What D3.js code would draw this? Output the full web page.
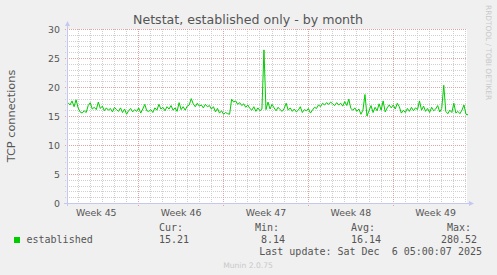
<!DOCTYPE html>
<html>
<head>
<meta charset="utf-8">
<script src="https://cdn.jsdelivr.net/npm/d3@7"></script>
<title>Netstat, established only - by month</title>
<style>
    body {
        margin: 0;
        background: #f0f0f0;
    }
    svg {
        display: block;
        font-family: "DejaVu Sans", sans-serif;
    }
    .mono {
        font-family: "DejaVu Sans Mono", monospace;
        font-size: 10px;
        fill: #555;
    }
</style>
</head>
<body>
<svg id="chart" width="497" height="275"></svg>
<script>

// --- data ---
var endTime = new Date("2025-12-06T05:00:07Z");
var spanHours = 33 * 24;   // munin "month" = 33 days
var stepHours = 4;

var established = [
    17.3, 16.9, 17.6, 16.6, 17.8, 16.4, 15.7, 15.5, 15.9, 15.6,
    16.8, 17.3, 16.2, 16.5, 16.1, 17.4, 16.3, 16.7, 15.9, 16.4,
    16.0, 16.3, 15.7, 16.5, 16.1, 15.8, 16.4, 15.6, 16.2, 15.3,
    15.9, 16.3, 15.7, 16.1, 15.8, 16.4, 15.5, 16.2, 17.0, 15.9,
    15.8, 16.1, 15.6, 16.4, 16.0, 17.0, 16.2, 16.5, 15.9, 16.6,
    16.2, 16.8, 16.0, 16.4, 15.8, 17.3, 16.1, 16.6, 16.0, 16.7,
    16.9, 18.0, 17.1, 16.6, 17.2, 16.7, 16.9, 16.4, 17.0, 16.6,
    16.8, 16.2, 16.6, 15.7, 16.3, 15.5, 15.9, 15.3, 15.6, 15.4,
    15.3, 17.9, 17.4, 17.6, 17.0, 17.3, 16.8, 17.1, 16.5, 16.9,
    16.3, 16.0, 16.6, 15.8, 16.4, 15.9, 16.2, 26.4, 16.1, 17.4,
    16.2, 17.0, 16.4, 15.9, 16.5, 16.1, 15.8, 16.3, 17.2, 16.0,
    16.4, 15.8, 16.2, 15.7, 16.0, 16.6, 15.6, 16.1, 15.9, 16.3,
    15.5, 16.0, 16.5, 16.3, 16.9, 16.6, 17.2, 16.9, 17.3, 17.0,
    17.4, 17.1, 16.8, 17.3, 16.9, 17.2, 16.7, 17.5, 16.8, 17.9,
    16.3, 16.0, 16.4, 15.8, 16.2, 15.3, 16.0, 18.7, 15.0, 15.9,
    16.8, 15.6, 16.5, 15.9, 17.1, 16.0, 17.6, 15.7, 16.4, 16.9,
    16.4, 16.9, 16.2, 17.2, 16.6, 15.5, 16.0, 15.6, 16.3, 15.8,
    16.5, 15.9, 16.4, 16.1, 17.6, 16.0, 16.7, 15.8, 16.3, 15.6,
    16.5, 15.9, 16.2, 16.8, 15.7, 16.3, 20.3, 15.8, 15.4, 16.0,
    15.6, 17.2, 15.5, 15.8, 15.4, 16.0, 16.9, 15.3, 15.2
];

var yTicks = [0, 5, 10, 15, 20, 25, 30];
var weekStarts = ["2025-11-09", "2025-11-16", "2025-11-23", "2025-11-30"];
var weekMids = ["2025-11-05T12:00Z", "2025-11-12T12:00Z", "2025-11-19T12:00Z",
                "2025-11-26T12:00Z", "2025-12-03T12:00Z"];
var weekLabels = ["Week 45", "Week 46", "Week 47", "Week 48", "Week 49"];

var legendHeaders = ["Cur:", "Min:", "Avg:", "Max:"];
var legendValues = ["15.21", "8.14", "16.14", "280.52"];

// --- setup ---
var svg = d3.select("#chart");
var plotLeft = 67, plotRight = 467, plotTop = 29, plotBottom = 203;
var lineColor = "#00cc00";
var minorColor = "#d0d0d0";
var majorColor = "#e0a4a4";
var axisColor = "#c4c8f0";

var startTime = new Date(endTime.getTime() - spanHours * 3600 * 1000);

var x = d3.scaleUtc()
        .domain([startTime, endTime])
        .range([plotLeft + 1, plotRight + 1]);

var y = d3.scaleLinear()
        .domain([0, 30])
        .range([plotBottom, plotTop]);

var points = established.map(function (v, i) {
    return { t: new Date(startTime.getTime() + i * stepHours * 3600 * 1000), v: v };
});

svg.append("rect")
        .attr("width", 497).attr("height", 275)
        .attr("fill", "#f0f0f0");

svg.append("rect")
        .attr("x", plotLeft).attr("y", plotTop)
        .attr("width", plotRight - plotLeft).attr("height", plotBottom - plotTop)
        .attr("fill", "white");

// grid
var grid = svg.append("g").attr("shape-rendering", "crispEdges");

var minorY = d3.range(1, 30).filter(function (v) { return v % 5 !== 0; });
grid.selectAll(".minorY")
        .data(minorY)
        .enter().append("line")
        .attr("x1", plotLeft - 2).attr("x2", plotRight)
        .attr("y1", function (d) { return Math.round(y(d)) + 0.5; })
        .attr("y2", function (d) { return Math.round(y(d)) + 0.5; })
        .attr("stroke", minorColor)
        .attr("stroke-dasharray", "1,1");

var days = d3.utcDay.range(startTime, endTime).filter(function (d) { return d.getUTCDay() !== 0; });
grid.selectAll(".minorX")
        .data(days)
        .enter().append("line")
        .attr("x1", function (d) { return Math.round(x(d)) + 0.5; })
        .attr("x2", function (d) { return Math.round(x(d)) + 0.5; })
        .attr("y1", plotTop).attr("y2", plotBottom + 2)
        .attr("stroke", minorColor)
        .attr("stroke-dasharray", "1,1");

grid.selectAll(".majorY")
        .data(yTicks.slice(1))
        .enter().append("line")
        .attr("x1", plotLeft - 2).attr("x2", plotRight)
        .attr("y1", function (d) { return Math.round(y(d)) + 0.5; })
        .attr("y2", function (d) { return Math.round(y(d)) + 0.5; })
        .attr("stroke", majorColor)
        .attr("stroke-dasharray", "1,1");

grid.selectAll(".majorX")
        .data(weekStarts.map(function (d) { return new Date(d + "T00:00:00Z"); }))
        .enter().append("line")
        .attr("x1", function (d) { return Math.round(x(d)) + 0.5; })
        .attr("x2", function (d) { return Math.round(x(d)) + 0.5; })
        .attr("y1", plotTop).attr("y2", plotBottom + 3)
        .attr("stroke", majorColor)
        .attr("stroke-dasharray", "1,1");

// data line
svg.append("path")
        .datum(points)
        .attr("fill", "none")
        .attr("stroke", lineColor)
        .attr("stroke-width", 1)
        .attr("d", d3.line()
                .x(function (d) { return x(d.t); })
                .y(function (d) { return y(d.v); }));

// axes lines with arrows
var ax = svg.append("g").attr("shape-rendering", "crispEdges");
ax.append("line")
        .attr("x1", plotLeft + 0.5).attr("x2", plotLeft + 0.5)
        .attr("y1", plotBottom + 3).attr("y2", plotTop - 5)
        .attr("stroke", axisColor);
ax.append("line")
        .attr("x1", plotLeft - 3).attr("x2", plotRight + 3)
        .attr("y1", plotBottom + 0.5).attr("y2", plotBottom + 0.5)
        .attr("stroke", axisColor);
svg.append("path")
        .attr("d", "M" + (plotLeft - 2) + "," + (plotTop - 3) + "L" + (plotLeft + 0.5) + "," + (plotTop - 8) + "L" + (plotLeft + 3) + "," + (plotTop - 3) + "Z")
        .attr("fill", axisColor);
svg.append("path")
        .attr("d", "M" + (plotRight + 2) + "," + (plotBottom - 2) + "L" + (plotRight + 7) + "," + (plotBottom + 0.5) + "L" + (plotRight + 2) + "," + (plotBottom + 3) + "Z")
        .attr("fill", axisColor);

// y axis labels
var yAxis = svg.append("g")
        .attr("transform", "translate(" + (plotLeft - 7) + ",0)")
        .call(d3.axisLeft(y).tickValues(yTicks).tickSize(0).tickPadding(0));
yAxis.select(".domain").remove();
yAxis.selectAll("text")
        .attr("font-family", "DejaVu Sans")
        .attr("font-size", "9.4px")
        .attr("fill", "#555");

// x axis labels
var xAxis = svg.append("g")
        .attr("transform", "translate(0," + (plotBottom + 6) + ")")
        .call(d3.axisBottom(x)
                .tickValues(weekMids.map(function (d) { return new Date(d); }))
                .tickFormat(function (d, i) { return weekLabels[i]; })
                .tickSize(0).tickPadding(0));
xAxis.select(".domain").remove();
xAxis.selectAll("text")
        .attr("font-family", "DejaVu Sans")
        .attr("font-size", "9.4px")
        .attr("fill", "#555");

// title and side texts
svg.append("text")
        .attr("x", 248).attr("y", 24)
        .attr("text-anchor", "middle")
        .attr("font-size", "12.6px")
        .attr("fill", "#555")
        .text("Netstat, established only - by month");

svg.append("text")
        .attr("transform", "translate(15,116) rotate(-90)")
        .attr("text-anchor", "middle")
        .attr("font-size", "11.3px")
        .attr("fill", "#555")
        .text("TCP connections");

svg.append("text")
        .attr("transform", "translate(486,5) rotate(90)")
        .attr("font-size", "7.4px")
        .attr("fill", "#c8c8c8")
        .text("RRDTOOL / TOBI OETIKER");

// legend
svg.append("rect")
        .attr("x", 14).attr("y", 237)
        .attr("width", 6).attr("height", 6)
        .attr("fill", lineColor);

svg.append("text").attr("class", "mono")
        .attr("x", 26.5).attr("y", 243)
        .text("established");

var colX = [159, 255, 351, 447];
var valX = [159, 261, 351, 441];
svg.selectAll(".lh")
        .data(legendHeaders)
        .enter().append("text").attr("class", "mono")
        .attr("x", function (d, i) { return colX[i]; })
        .attr("y", 231)
        .text(function (d) { return d; });
svg.selectAll(".lv")
        .data(legendValues)
        .enter().append("text").attr("class", "mono")
        .attr("x", function (d, i) { return valX[i]; })
        .attr("y", 243)
        .text(function (d) { return d; });

svg.append("text").attr("class", "mono")
        .attr("x", 482).attr("y", 255)
        .attr("text-anchor", "end")
        .style("white-space", "pre")
        .text("Last update: Sat Dec  6 05:00:07 2025");

svg.append("text")
        .attr("x", 248).attr("y", 267.5)
        .attr("text-anchor", "middle")
        .attr("font-size", "7.6px")
        .attr("fill", "#c8c8c8")
        .text("Munin 2.0.75");

</script>
</body>
</html>
